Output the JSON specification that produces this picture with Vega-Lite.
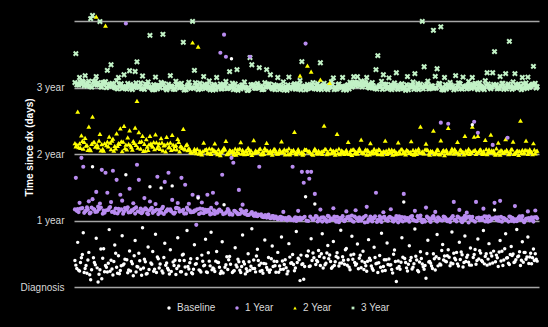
{
"$schema":"https://vega.github.io/schema/vega-lite/v6.json",
"width":465,"height":266,
"autosize":{"type":"none"},
"padding":{"left":74,"top":21,"right":9,"bottom":40},
"background":"#000000",
"config":{"view":{"stroke":null},"font":"Liberation Sans"},
"datasets":{
"h":[{"i":1,"v":1281},{"i":2,"v":1118},{"i":3,"v":1150},{"i":4,"v":1112},{"i":5,"v":1125},{"i":6,"v":1160},{"i":7,"v":1104},{"i":8,"v":1130},{"i":9,"v":1473},{"i":10,"v":1490},{"i":11,"v":1108},{"i":12,"v":1155},{"i":13,"v":1121},{"i":14,"v":1457},{"i":15,"v":1098},{"i":16,"v":1116},{"i":17,"v":1127},{"i":18,"v":1189},{"i":19,"v":1102},{"i":20,"v":1220},{"i":21,"v":1111},{"i":22,"v":1094},{"i":23,"v":1132},{"i":24,"v":1150},{"i":25,"v":1106},{"i":26,"v":1089},{"i":27,"v":1165},{"i":28,"v":1099},{"i":29,"v":1117},{"i":30,"v":1187},{"i":31,"v":1092},{"i":32,"v":1108},{"i":33,"v":1183},{"i":34,"v":1236},{"i":35,"v":1096},{"i":36,"v":1120},{"i":37,"v":1158},{"i":38,"v":1085},{"i":39,"v":1103},{"i":40,"v":1126},{"i":41,"v":1381},{"i":42,"v":1091},{"i":43,"v":1110},{"i":44,"v":1152},{"i":45,"v":1087},{"i":46,"v":1101},{"i":47,"v":1123},{"i":48,"v":1387},{"i":49,"v":1094},{"i":50,"v":1082},{"i":51,"v":1113},{"i":52,"v":1160},{"i":53,"v":1098},{"i":54,"v":1088},{"i":55,"v":1129},{"i":56,"v":1105},{"i":57,"v":1093},{"i":58,"v":1118},{"i":59,"v":1343},{"i":60,"v":1086},{"i":61,"v":1100},{"i":62,"v":1124},{"i":63,"v":1090},{"i":64,"v":1458},{"i":65,"v":1189},{"i":66,"v":1107},{"i":67,"v":1084},{"i":68,"v":1119},{"i":69,"v":1097},{"i":70,"v":1155},{"i":71,"v":1089},{"i":72,"v":1111},{"i":73,"v":1131},{"i":74,"v":1093},{"i":75,"v":1081},{"i":76,"v":1106},{"i":77,"v":1150},{"i":78,"v":1095},{"i":79,"v":1115},{"i":80,"v":1088},{"i":81,"v":1102},{"i":82,"v":1128},{"i":83,"v":1091},{"i":84,"v":1182},{"i":85,"v":1099},{"i":86,"v":1083},{"i":87,"v":1114},{"i":88,"v":1193},{"i":89,"v":1096},{"i":90,"v":1087},{"i":91,"v":1109},{"i":92,"v":1125},{"i":93,"v":1092},{"i":94,"v":1080},{"i":95,"v":1259},{"i":96,"v":1220},{"i":97,"v":1104},{"i":98,"v":1090},{"i":99,"v":1117},{"i":100,"v":1204},{"i":101,"v":1094},{"i":102,"v":1086},{"i":103,"v":1121},{"i":104,"v":1193},{"i":105,"v":1099},{"i":106,"v":1165},{"i":107,"v":1088},{"i":108,"v":1110},{"i":109,"v":1097},{"i":110,"v":1150},{"i":111,"v":1084},{"i":112,"v":1103},{"i":113,"v":1126},{"i":114,"v":1091},{"i":115,"v":1079},{"i":116,"v":1152},{"i":117,"v":1100},{"i":118,"v":1093},{"i":119,"v":1116},{"i":120,"v":1087},{"i":121,"v":1105},{"i":122,"v":1133},{"i":123,"v":1237},{"i":124,"v":1095},{"i":125,"v":1082},{"i":126,"v":1112},{"i":127,"v":1098},{"i":128,"v":1089},{"i":129,"v":1122},{"i":130,"v":1094},{"i":131,"v":1106},{"i":132,"v":1085},{"i":133,"v":1231},{"i":134,"v":1101},{"i":135,"v":1118},{"i":136,"v":1090},{"i":137,"v":1083},{"i":138,"v":1108},{"i":139,"v":1127},{"i":140,"v":1148},{"i":141,"v":1096},{"i":142,"v":1087},{"i":143,"v":1114},{"i":144,"v":1099},{"i":145,"v":1150},{"i":146,"v":1092},{"i":147,"v":1081},{"i":148,"v":1110},{"i":149,"v":1124},{"i":150,"v":1097},{"i":151,"v":1154},{"i":152,"v":1103},{"i":153,"v":1154},{"i":154,"v":1119},{"i":155,"v":1131},{"i":156,"v":1108},{"i":157,"v":1126},{"i":158,"v":1150},{"i":159,"v":1113},{"i":160,"v":1100},{"i":161,"v":1122},{"i":162,"v":1094},{"i":163,"v":1193},{"i":164,"v":1270},{"i":165,"v":1106},{"i":166,"v":1129},{"i":167,"v":1165},{"i":168,"v":1098},{"i":169,"v":1088},{"i":170,"v":1148},{"i":171,"v":1111},{"i":172,"v":1093},{"i":173,"v":1120},{"i":174,"v":1176},{"i":175,"v":1085},{"i":176,"v":1102},{"i":177,"v":1116},{"i":178,"v":1090},{"i":179,"v":1080},{"i":180,"v":1155},{"i":181,"v":1097},{"i":182,"v":1108},{"i":183,"v":1125},{"i":184,"v":1171},{"i":185,"v":1092},{"i":186,"v":1084},{"i":187,"v":1113},{"i":188,"v":1458},{"i":189,"v":1209},{"i":190,"v":1099},{"i":191,"v":1130},{"i":192,"v":1089},{"i":193,"v":1105},{"i":194,"v":1409},{"i":195,"v":1156},{"i":196,"v":1198},{"i":197,"v":1117},{"i":198,"v":1428},{"i":199,"v":1094},{"i":200,"v":1150},{"i":201,"v":1086},{"i":202,"v":1110},{"i":203,"v":1123},{"i":204,"v":1096},{"i":205,"v":1082},{"i":206,"v":1160},{"i":207,"v":1104},{"i":208,"v":1119},{"i":209,"v":1091},{"i":210,"v":1152},{"i":211,"v":1100},{"i":212,"v":1087},{"i":213,"v":1128},{"i":214,"v":1107},{"i":215,"v":1150},{"i":216,"v":1095},{"i":217,"v":1114},{"i":218,"v":1083},{"i":219,"v":1121},{"i":220,"v":1098},{"i":221,"v":1090},{"i":222,"v":1132},{"i":223,"v":1176},{"i":224,"v":1103},{"i":225,"v":1088},{"i":226,"v":1176},{"i":227,"v":1292},{"i":228,"v":1111},{"i":229,"v":1094},{"i":230,"v":1155},{"i":231,"v":1117},{"i":232,"v":1085},{"i":233,"v":1171},{"i":234,"v":1106},{"i":235,"v":1348},{"i":236,"v":1097},{"i":237,"v":1126},{"i":238,"v":1171},{"i":239,"v":1092},{"i":240,"v":1115},{"i":241,"v":1101},{"i":242,"v":1150},{"i":243,"v":1089},{"i":244,"v":1120},{"i":245,"v":1152},{"i":246,"v":1096},{"i":247,"v":1108},{"i":248,"v":1211},{"i":249,"v":1118},{"i":250,"v":1100},
{"i":1.5,"v":1110},{"i":3.5,"v":1126},{"i":5.5,"v":1104},{"i":7.5,"v":1119},{"i":9.5,"v":1097},{"i":11.5,"v":1131},{"i":13.5,"v":1108},{"i":15.5,"v":1122},{"i":17.5,"v":1094},{"i":19.5,"v":1113},{"i":21.5,"v":1101},{"i":23.5,"v":1087},{"i":25.5,"v":1116},{"i":27.5,"v":1092},{"i":29.5,"v":1105},{"i":31.5,"v":1084},{"i":33.5,"v":1120},{"i":35.5,"v":1098},{"i":37.5,"v":1089},{"i":39.5,"v":1111},{"i":41.5,"v":1095},{"i":43.5,"v":1083},{"i":45.5,"v":1107},{"i":47.5,"v":1118},{"i":49.5,"v":1090},{"i":51.5,"v":1102},{"i":53.5,"v":1086},{"i":55.5,"v":1113},{"i":57.5,"v":1097},{"i":59.5,"v":1081},{"i":61.5,"v":1109},{"i":63.5,"v":1094},{"i":65.5,"v":1121},{"i":67.5,"v":1088},{"i":69.5,"v":1104},{"i":71.5,"v":1096},{"i":73.5,"v":1082},{"i":75.5,"v":1112},{"i":77.5,"v":1099},{"i":79.5,"v":1087},{"i":81.5,"v":1108},{"i":83.5,"v":1093},{"i":85.5,"v":1119},{"i":87.5,"v":1085},{"i":89.5,"v":1101},{"i":91.5,"v":1095},{"i":93.5,"v":1080},{"i":95.5,"v":1110},{"i":97.5,"v":1092},{"i":99.5,"v":1106},{"i":101.5,"v":1083},{"i":103.5,"v":1098},{"i":105.5,"v":1114},{"i":107.5,"v":1089},{"i":109.5,"v":1103},{"i":111.5,"v":1094},{"i":113.5,"v":1081},{"i":115.5,"v":1109},{"i":117.5,"v":1096},{"i":119.5,"v":1086},{"i":121.5,"v":1112},{"i":123.5,"v":1100},{"i":125.5,"v":1088},{"i":127.5,"v":1105},{"i":129.5,"v":1093},{"i":131.5,"v":1117},{"i":133.5,"v":1084},{"i":135.5,"v":1102},{"i":137.5,"v":1095},{"i":139.5,"v":1110},{"i":141.5,"v":1087},{"i":143.5,"v":1099},{"i":145.5,"v":1082},{"i":147.5,"v":1107},{"i":149.5,"v":1116},{"i":151.5,"v":1124},{"i":153.5,"v":1111},{"i":155.5,"v":1098},{"i":157.5,"v":1119},{"i":159.5,"v":1092},{"i":161.5,"v":1105},{"i":163.5,"v":1086},{"i":165.5,"v":1101},{"i":167.5,"v":1113},{"i":169.5,"v":1094},{"i":171.5,"v":1083},{"i":173.5,"v":1108},{"i":175.5,"v":1097},{"i":177.5,"v":1089},{"i":179.5,"v":1111},{"i":181.5,"v":1100},{"i":183.5,"v":1085},{"i":185.5,"v":1117},{"i":187.5,"v":1095},{"i":189.5,"v":1106},{"i":191.5,"v":1088},{"i":193.5,"v":1103},{"i":195.5,"v":1092},{"i":197.5,"v":1114},{"i":199.5,"v":1081},{"i":201.5,"v":1099},{"i":203.5,"v":1109},{"i":205.5,"v":1093},{"i":207.5,"v":1120},{"i":209.5,"v":1086},{"i":211.5,"v":1104},{"i":213.5,"v":1096},{"i":215.5,"v":1112},{"i":217.5,"v":1090},{"i":219.5,"v":1101},{"i":221.5,"v":1084},{"i":223.5,"v":1115},{"i":225.5,"v":1098},{"i":227.5,"v":1107},{"i":229.5,"v":1091},{"i":231.5,"v":1118},{"i":233.5,"v":1087},{"i":235.5,"v":1102},{"i":237.5,"v":1094},{"i":239.5,"v":1110},{"i":241.5,"v":1083},{"i":243.5,"v":1105},{"i":245.5,"v":1097},{"i":247.5,"v":1113},{"i":249.5,"v":1092},
{"i":0.5,"v":1122},{"i":2.5,"v":1108},{"i":4.5,"v":1131},{"i":6.5,"v":1115},{"i":8.5,"v":1102},{"i":10.5,"v":1127},{"i":12.5,"v":1112},{"i":14.5,"v":1098},{"i":16.5,"v":1124},{"i":18.5,"v":1106},{"i":20.5,"v":1117},{"i":22.5,"v":1093},{"i":24.5,"v":1110},{"i":26.5,"v":1100},{"i":28.5,"v":1086},{"i":30.5,"v":1112},{"i":32.5,"v":1095},{"i":34.5,"v":1104},{"i":36.5,"v":1088},{"i":38.5,"v":1114},{"i":40.5,"v":1099},{"i":42.5,"v":1082},{"i":44.5,"v":1106},{"i":46.5,"v":1093},{"i":48.5,"v":1116},{"i":50.5,"v":1090},{"i":52.5,"v":1103},{"i":54.5,"v":1085},{"i":56.5,"v":1110},{"i":58.5,"v":1096},{"i":60.5,"v":1083},{"i":62.5,"v":1107},{"i":64.5,"v":1091},{"i":66.5,"v":1101},{"i":68.5,"v":1087},{"i":70.5,"v":1113},{"i":72.5,"v":1094},{"i":74.5,"v":1105},{"i":76.5,"v":1084},{"i":78.5,"v":1098},{"i":80.5,"v":1110},{"i":82.5,"v":1089},{"i":84.5,"v":1102},{"i":86.5,"v":1094},{"i":88.5,"v":1080},{"i":90.5,"v":1108},{"i":92.5,"v":1097},{"i":94.5,"v":1086},{"i":96.5,"v":1111},{"i":98.5,"v":1092},{"i":100.5,"v":1101},{"i":102.5,"v":1085},{"i":104.5,"v":1113},{"i":106.5,"v":1096},{"i":108.5,"v":1083},{"i":110.5,"v":1106},{"i":112.5,"v":1091},{"i":114.5,"v":1100},{"i":116.5,"v":1088},{"i":118.5,"v":1109},{"i":120.5,"v":1094},{"i":122.5,"v":1082},{"i":124.5,"v":1104},{"i":126.5,"v":1093},{"i":128.5,"v":1110},{"i":130.5,"v":1086},{"i":132.5,"v":1099},{"i":134.5,"v":1107},{"i":136.5,"v":1090},{"i":138.5,"v":1098},{"i":140.5,"v":1084},{"i":142.5,"v":1111},{"i":144.5,"v":1095},{"i":146.5,"v":1103},{"i":148.5,"v":1087},{"i":150.5,"v":1115},{"i":152.5,"v":1122},{"i":154.5,"v":1106},{"i":156.5,"v":1114},{"i":158.5,"v":1097},{"i":160.5,"v":1109},{"i":162.5,"v":1089},{"i":164.5,"v":1100},{"i":166.5,"v":1085},{"i":168.5,"v":1112},{"i":170.5,"v":1096},{"i":172.5,"v":1104},{"i":174.5,"v":1088},{"i":176.5,"v":1110},{"i":178.5,"v":1093},{"i":180.5,"v":1082},{"i":182.5,"v":1101},{"i":184.5,"v":1095},{"i":186.5,"v":1107},{"i":188.5,"v":1087},{"i":190.5,"v":1113},{"i":192.5,"v":1098},{"i":194.5,"v":1090},{"i":196.5,"v":1105},{"i":198.5,"v":1084},{"i":200.5,"v":1110},{"i":202.5,"v":1094},{"i":204.5,"v":1102},{"i":206.5,"v":1086},{"i":208.5,"v":1115},{"i":210.5,"v":1097},{"i":212.5,"v":1106},{"i":214.5,"v":1089},{"i":216.5,"v":1118},{"i":218.5,"v":1099},{"i":220.5,"v":1091},{"i":222.5,"v":1108},{"i":224.5,"v":1095},{"i":226.5,"v":1112},{"i":228.5,"v":1088},{"i":230.5,"v":1103},{"i":232.5,"v":1096},{"i":234.5,"v":1114},{"i":236.5,"v":1085},{"i":238.5,"v":1107},{"i":240.5,"v":1098},{"i":242.5,"v":1116},{"i":244.5,"v":1090},{"i":246.5,"v":1104},{"i":248.5,"v":1111}],
"t":[{"i":1,"v":772},{"i":2,"v":962},{"i":3,"v":788},{"i":4,"v":832},{"i":5,"v":760},{"i":6,"v":818},{"i":7,"v":779},{"i":8,"v":880},{"i":9,"v":751},{"i":10,"v":935},{"i":11,"v":795},{"i":12,"v":1484},{"i":13,"v":766},{"i":14,"v":840},{"i":15,"v":784},{"i":16,"v":749},{"i":17,"v":1435},{"i":18,"v":798},{"i":19,"v":826},{"i":20,"v":757},{"i":21,"v":815},{"i":22,"v":775},{"i":23,"v":843},{"i":24,"v":790},{"i":25,"v":870},{"i":26,"v":746},{"i":27,"v":885},{"i":28,"v":782},{"i":29,"v":821},{"i":30,"v":860},{"i":31,"v":768},{"i":32,"v":801},{"i":33,"v":875},{"i":34,"v":1022},{"i":35,"v":850},{"i":36,"v":759},{"i":37,"v":829},{"i":38,"v":786},{"i":39,"v":812},{"i":40,"v":753},{"i":41,"v":830},{"i":42,"v":777},{"i":43,"v":795},{"i":44,"v":838},{"i":45,"v":763},{"i":46,"v":789},{"i":47,"v":817},{"i":48,"v":750},{"i":49,"v":781},{"i":50,"v":824},{"i":51,"v":766},{"i":52,"v":792},{"i":53,"v":835},{"i":54,"v":758},{"i":55,"v":779},{"i":56,"v":813},{"i":57,"v":745},{"i":58,"v":771},{"i":59,"v":868},{"i":60,"v":756},{"i":61,"v":784},{"i":62,"v":762},{"i":63,"v":741},{"i":64,"v":1342},{"i":65,"v":758},{"i":66,"v":735},{"i":67,"v":1320},{"i":68,"v":749},{"i":69,"v":728},{"i":70,"v":793},{"i":71,"v":752},{"i":72,"v":737},{"i":73,"v":761},{"i":74,"v":730},{"i":75,"v":746},{"i":76,"v":788},{"i":77,"v":739},{"i":78,"v":756},{"i":79,"v":724},{"i":80,"v":748},{"i":81,"v":765},{"i":82,"v":802},{"i":83,"v":733},{"i":84,"v":751},{"i":85,"v":742},{"i":86,"v":727},{"i":87,"v":760},{"i":88,"v":744},{"i":89,"v":736},{"i":90,"v":795},{"i":91,"v":753},{"i":92,"v":729},{"i":93,"v":747},{"i":94,"v":763},{"i":95,"v":738},{"i":96,"v":725},{"i":97,"v":806},{"i":98,"v":750},{"i":99,"v":740},{"i":100,"v":757},{"i":101,"v":731},{"i":102,"v":745},{"i":103,"v":762},{"i":104,"v":791},{"i":105,"v":735},{"i":106,"v":748},{"i":107,"v":726},{"i":108,"v":758},{"i":109,"v":743},{"i":110,"v":732},{"i":111,"v":754},{"i":112,"v":799},{"i":113,"v":739},{"i":114,"v":728},{"i":115,"v":750},{"i":116,"v":761},{"i":117,"v":736},{"i":118,"v":744},{"i":119,"v":852},{"i":120,"v":729},{"i":121,"v":757},{"i":122,"v":1160},{"i":123,"v":741},{"i":124,"v":733},{"i":125,"v":752},{"i":126,"v":1215},{"i":127,"v":746},{"i":128,"v":1182},{"i":129,"v":727},{"i":130,"v":760},{"i":131,"v":738},{"i":132,"v":749},{"i":133,"v":1138},{"i":134,"v":731},{"i":135,"v":886},{"i":136,"v":755},{"i":137,"v":742},{"i":138,"v":1120},{"i":139,"v":735},{"i":140,"v":748},{"i":141,"v":726},{"i":142,"v":841},{"i":143,"v":759},{"i":144,"v":737},{"i":145,"v":744},{"i":146,"v":730},{"i":147,"v":753},{"i":148,"v":797},{"i":149,"v":740},{"i":150,"v":725},{"i":151,"v":756},{"i":152,"v":743},{"i":153,"v":732},{"i":154,"v":761},{"i":155,"v":809},{"i":156,"v":738},{"i":157,"v":749},{"i":158,"v":727},{"i":159,"v":745},{"i":160,"v":790},{"i":161,"v":734},{"i":162,"v":758},{"i":163,"v":741},{"i":164,"v":729},{"i":165,"v":752},{"i":166,"v":737},{"i":167,"v":746},{"i":168,"v":803},{"i":169,"v":731},{"i":170,"v":755},{"i":171,"v":742},{"i":172,"v":726},{"i":173,"v":750},{"i":174,"v":739},{"i":175,"v":794},{"i":176,"v":733},{"i":177,"v":757},{"i":178,"v":744},{"i":179,"v":728},{"i":180,"v":748},{"i":181,"v":736},{"i":182,"v":800},{"i":183,"v":753},{"i":184,"v":740},{"i":185,"v":730},{"i":186,"v":759},{"i":187,"v":880},{"i":188,"v":745},{"i":189,"v":734},{"i":190,"v":787},{"i":191,"v":751},{"i":192,"v":727},{"i":193,"v":742},{"i":194,"v":858},{"i":195,"v":738},{"i":196,"v":756},{"i":197,"v":731},{"i":198,"v":805},{"i":199,"v":747},{"i":200,"v":724},{"i":201,"v":753},{"i":202,"v":874},{"i":203,"v":739},{"i":204,"v":760},{"i":205,"v":732},{"i":206,"v":745},{"i":207,"v":796},{"i":208,"v":728},{"i":209,"v":750},{"i":210,"v":741},{"i":211,"v":830},{"i":212,"v":735},{"i":213,"v":758},{"i":214,"v":744},{"i":215,"v":880},{"i":216,"v":825},{"i":217,"v":730},{"i":218,"v":830},{"i":219,"v":752},{"i":220,"v":737},{"i":221,"v":746},{"i":222,"v":808},{"i":223,"v":729},{"i":224,"v":755},{"i":225,"v":836},{"i":226,"v":740},{"i":227,"v":733},{"i":228,"v":761},{"i":229,"v":792},{"i":230,"v":726},{"i":231,"v":749},{"i":232,"v":738},{"i":233,"v":812},{"i":234,"v":744},{"i":235,"v":731},{"i":236,"v":757},{"i":237,"v":798},{"i":238,"v":735},{"i":239,"v":747},{"i":240,"v":725},{"i":241,"v":913},{"i":242,"v":752},{"i":243,"v":739},{"i":244,"v":804},{"i":245,"v":730},{"i":246,"v":756},{"i":247,"v":742},{"i":248,"v":789},{"i":249,"v":734},{"i":250,"v":748},
{"i":1.5,"v":781},{"i":3.5,"v":764},{"i":5.5,"v":797},{"i":7.5,"v":752},{"i":9.5,"v":786},{"i":11.5,"v":770},{"i":13.5,"v":803},{"i":15.5,"v":758},{"i":17.5,"v":779},{"i":19.5,"v":792},{"i":21.5,"v":748},{"i":23.5,"v":774},{"i":25.5,"v":799},{"i":27.5,"v":762},{"i":29.5,"v":785},{"i":31.5,"v":754},{"i":33.5,"v":780},{"i":35.5,"v":796},{"i":37.5,"v":747},{"i":39.5,"v":771},{"i":41.5,"v":788},{"i":43.5,"v":757},{"i":45.5,"v":776},{"i":47.5,"v":793},{"i":49.5,"v":744},{"i":51.5,"v":769},{"i":53.5,"v":782},{"i":55.5,"v":755},{"i":57.5,"v":773},{"i":59.5,"v":760},{"i":61.5,"v":751},{"i":63.5,"v":738},{"i":65.5,"v":749},{"i":67.5,"v":732},{"i":69.5,"v":744},{"i":71.5,"v":757},{"i":73.5,"v":736},{"i":75.5,"v":752},{"i":77.5,"v":729},{"i":79.5,"v":741},{"i":81.5,"v":755},{"i":83.5,"v":734},{"i":85.5,"v":747},{"i":87.5,"v":726},{"i":89.5,"v":759},{"i":91.5,"v":740},{"i":93.5,"v":731},{"i":95.5,"v":750},{"i":97.5,"v":737},{"i":99.5,"v":745},{"i":101.5,"v":728},{"i":103.5,"v":753},{"i":105.5,"v":739},{"i":107.5,"v":746},{"i":109.5,"v":733},{"i":111.5,"v":742},{"i":113.5,"v":756},{"i":115.5,"v":730},{"i":117.5,"v":748},{"i":119.5,"v":737},{"i":121.5,"v":744},{"i":123.5,"v":727},{"i":125.5,"v":754},{"i":127.5,"v":739},{"i":129.5,"v":749},{"i":131.5,"v":732},{"i":133.5,"v":743},{"i":135.5,"v":758},{"i":137.5,"v":734},{"i":139.5,"v":745},{"i":141.5,"v":751},{"i":143.5,"v":729},{"i":145.5,"v":740},{"i":147.5,"v":736},{"i":149.5,"v":753},{"i":151.5,"v":733},{"i":153.5,"v":747},{"i":155.5,"v":739},{"i":157.5,"v":756},{"i":159.5,"v":728},{"i":161.5,"v":744},{"i":163.5,"v":750},{"i":165.5,"v":731},{"i":167.5,"v":742},{"i":169.5,"v":737},{"i":171.5,"v":754},{"i":173.5,"v":729},{"i":175.5,"v":745},{"i":177.5,"v":735},{"i":179.5,"v":752},{"i":181.5,"v":741},{"i":183.5,"v":727},{"i":185.5,"v":748},{"i":187.5,"v":738},{"i":189.5,"v":755},{"i":191.5,"v":732},{"i":193.5,"v":746},{"i":195.5,"v":740},{"i":197.5,"v":728},{"i":199.5,"v":751},{"i":201.5,"v":736},{"i":203.5,"v":744},{"i":205.5,"v":757},{"i":207.5,"v":733},{"i":209.5,"v":742},{"i":211.5,"v":749},{"i":213.5,"v":730},{"i":215.5,"v":747},{"i":217.5,"v":739},{"i":219.5,"v":755},{"i":221.5,"v":734},{"i":223.5,"v":743},{"i":225.5,"v":750},{"i":227.5,"v":727},{"i":229.5,"v":745},{"i":231.5,"v":737},{"i":233.5,"v":753},{"i":235.5,"v":741},{"i":237.5,"v":731},{"i":239.5,"v":748},{"i":241.5,"v":736},{"i":243.5,"v":752},{"i":245.5,"v":744},{"i":247.5,"v":729},{"i":249.5,"v":746},
{"i":0.5,"v":790},{"i":2.5,"v":768},{"i":4.5,"v":802},{"i":6.5,"v":776},{"i":8.5,"v":759},{"i":10.5,"v":795},{"i":12.5,"v":781},{"i":14.5,"v":750},{"i":16.5,"v":789},{"i":18.5,"v":772},{"i":20.5,"v":804},{"i":22.5,"v":761},{"i":24.5,"v":785},{"i":26.5,"v":798},{"i":28.5,"v":756},{"i":30.5,"v":778},{"i":32.5,"v":791},{"i":34.5,"v":765},{"i":36.5,"v":800},{"i":38.5,"v":749},{"i":40.5,"v":783},{"i":42.5,"v":770},{"i":44.5,"v":794},{"i":46.5,"v":758},{"i":48.5,"v":777},{"i":50.5,"v":788},{"i":52.5,"v":753},{"i":54.5,"v":774},{"i":56.5,"v":796},{"i":58.5,"v":763},{"i":60.5,"v":779},{"i":62.5,"v":755},{"i":64.5,"v":743},{"i":66.5,"v":758},{"i":68.5,"v":738},{"i":70.5,"v":751},{"i":72.5,"v":733},{"i":74.5,"v":760},{"i":76.5,"v":744},{"i":78.5,"v":737},{"i":80.5,"v":754},{"i":82.5,"v":729},{"i":84.5,"v":748},{"i":86.5,"v":740},{"i":88.5,"v":757},{"i":90.5,"v":732},{"i":92.5,"v":746},{"i":94.5,"v":752},{"i":96.5,"v":735},{"i":98.5,"v":743},{"i":100.5,"v":759},{"i":102.5,"v":730},{"i":104.5,"v":748},{"i":106.5,"v":739},{"i":108.5,"v":755},{"i":110.5,"v":736},{"i":112.5,"v":744},{"i":114.5,"v":750},{"i":116.5,"v":728},{"i":118.5,"v":753},{"i":120.5,"v":741},{"i":122.5,"v":734},{"i":124.5,"v":756},{"i":126.5,"v":745},{"i":128.5,"v":731},{"i":130.5,"v":751},{"i":132.5,"v":738},{"i":134.5,"v":747},{"i":136.5,"v":729},{"i":138.5,"v":757},{"i":140.5,"v":742},{"i":142.5,"v":735},{"i":144.5,"v":750},{"i":146.5,"v":744},{"i":148.5,"v":730},{"i":150.5,"v":754},{"i":152.5,"v":739},{"i":154.5,"v":748},{"i":156.5,"v":733},{"i":158.5,"v":752},{"i":160.5,"v":743},{"i":162.5,"v":736},{"i":164.5,"v":757},{"i":166.5,"v":728},{"i":168.5,"v":749},{"i":170.5,"v":740},{"i":172.5,"v":746},{"i":174.5,"v":732},{"i":176.5,"v":755},{"i":178.5,"v":738},{"i":180.5,"v":744},{"i":182.5,"v":730},{"i":184.5,"v":751},{"i":186.5,"v":742},{"i":188.5,"v":735},{"i":190.5,"v":756},{"i":192.5,"v":747},{"i":194.5,"v":729},{"i":196.5,"v":753},{"i":198.5,"v":738},{"i":200.5,"v":745},{"i":202.5,"v":733},{"i":204.5,"v":750},{"i":206.5,"v":741},{"i":208.5,"v":754},{"i":210.5,"v":728},{"i":212.5,"v":746},{"i":214.5,"v":737},{"i":216.5,"v":752},{"i":218.5,"v":743},{"i":220.5,"v":731},{"i":222.5,"v":757},{"i":224.5,"v":740},{"i":226.5,"v":748},{"i":228.5,"v":734},{"i":230.5,"v":751},{"i":232.5,"v":744},{"i":234.5,"v":729},{"i":236.5,"v":755},{"i":238.5,"v":739},{"i":240.5,"v":746},{"i":242.5,"v":733},{"i":244.5,"v":750},{"i":246.5,"v":741},{"i":248.5,"v":754}],
"o":[{"i":1,"v":599},{"i":2,"v":428},{"i":3,"v":462},{"i":4,"v":709},{"i":5,"v":660},{"i":6,"v":415},{"i":7,"v":437},{"i":8,"v":470},{"i":9,"v":409},{"i":10,"v":482},{"i":11,"v":425},{"i":12,"v":522},{"i":13,"v":441},{"i":14,"v":458},{"i":15,"v":643},{"i":16,"v":419},{"i":17,"v":627},{"i":18,"v":517},{"i":19,"v":433},{"i":20,"v":466},{"i":21,"v":638},{"i":22,"v":406},{"i":23,"v":588},{"i":24,"v":429},{"i":25,"v":506},{"i":26,"v":474},{"i":27,"v":414},{"i":28,"v":1446},{"i":29,"v":438},{"i":30,"v":539},{"i":31,"v":421},{"i":32,"v":460},{"i":33,"v":403},{"i":34,"v":671},{"i":35,"v":588},{"i":36,"v":431},{"i":37,"v":412},{"i":38,"v":488},{"i":39,"v":426},{"i":40,"v":399},{"i":41,"v":469},{"i":42,"v":435},{"i":43,"v":417},{"i":44,"v":455},{"i":45,"v":605},{"i":46,"v":422},{"i":47,"v":408},{"i":48,"v":440},{"i":49,"v":577},{"i":50,"v":418},{"i":51,"v":627},{"i":52,"v":427},{"i":53,"v":478},{"i":54,"v":402},{"i":55,"v":433},{"i":56,"v":461},{"i":57,"v":414},{"i":58,"v":599},{"i":59,"v":424},{"i":60,"v":561},{"i":61,"v":436},{"i":62,"v":457},{"i":63,"v":410},{"i":64,"v":506},{"i":65,"v":420},{"i":66,"v":341},{"i":67,"v":495},{"i":68,"v":430},{"i":69,"v":464},{"i":70,"v":405},{"i":71,"v":423},{"i":72,"v":506},{"i":73,"v":413},{"i":74,"v":434},{"i":75,"v":517},{"i":76,"v":401},{"i":77,"v":459},{"i":78,"v":419},{"i":79,"v":1286},{"i":80,"v":616},{"i":81,"v":1385},{"i":82,"v":1264},{"i":83,"v":428},{"i":84,"v":398},{"i":85,"v":709},{"i":86,"v":682},{"i":87,"v":416},{"i":88,"v":407},{"i":89,"v":533},{"i":90,"v":425},{"i":91,"v":452},{"i":92,"v":403},{"i":93,"v":418},{"i":94,"v":396},{"i":95,"v":1264},{"i":96,"v":411},{"i":97,"v":392},{"i":98,"v":404},{"i":99,"v":388},{"i":100,"v":660},{"i":101,"v":399},{"i":102,"v":385},{"i":103,"v":394},{"i":104,"v":381},{"i":105,"v":397},{"i":106,"v":378},{"i":107,"v":390},{"i":108,"v":376},{"i":109,"v":386},{"i":110,"v":372},{"i":111,"v":383},{"i":112,"v":369},{"i":113,"v":412},{"i":114,"v":379},{"i":115,"v":366},{"i":116,"v":384},{"i":117,"v":371},{"i":118,"v":660},{"i":119,"v":377},{"i":120,"v":362},{"i":121,"v":418},{"i":122,"v":381},{"i":123,"v":632},{"i":124,"v":572},{"i":125,"v":1336},{"i":126,"v":632},{"i":127,"v":594},{"i":128,"v":632},{"i":129,"v":368},{"i":130,"v":511},{"i":131,"v":386},{"i":132,"v":374},{"i":133,"v":425},{"i":134,"v":359},{"i":135,"v":380},{"i":136,"v":370},{"i":137,"v":391},{"i":138,"v":363},{"i":139,"v":376},{"i":140,"v":432},{"i":141,"v":367},{"i":142,"v":385},{"i":143,"v":356},{"i":144,"v":373},{"i":145,"v":389},{"i":146,"v":361},{"i":147,"v":415},{"i":148,"v":377},{"i":149,"v":368},{"i":150,"v":392},{"i":151,"v":358},{"i":152,"v":421},{"i":153,"v":375},{"i":154,"v":383},{"i":155,"v":364},{"i":156,"v":379},{"i":157,"v":354},{"i":158,"v":440},{"i":159,"v":371},{"i":160,"v":386},{"i":161,"v":360},{"i":162,"v":378},{"i":163,"v":517},{"i":164,"v":369},{"i":165,"v":388},{"i":166,"v":357},{"i":167,"v":410},{"i":168,"v":374},{"i":169,"v":365},{"i":170,"v":381},{"i":171,"v":427},{"i":172,"v":362},{"i":173,"v":376},{"i":174,"v":390},{"i":175,"v":355},{"i":176,"v":372},{"i":177,"v":384},{"i":178,"v":511},{"i":179,"v":366},{"i":180,"v":379},{"i":181,"v":358},{"i":182,"v":387},{"i":183,"v":370},{"i":184,"v":418},{"i":185,"v":361},{"i":186,"v":375},{"i":187,"v":392},{"i":188,"v":356},{"i":189,"v":368},{"i":190,"v":436},{"i":191,"v":380},{"i":192,"v":363},{"i":193,"v":374},{"i":194,"v":389},{"i":195,"v":412},{"i":196,"v":359},{"i":197,"v":377},{"i":198,"v":902},{"i":199,"v":366},{"i":200,"v":384},{"i":201,"v":371},{"i":202,"v":896},{"i":203,"v":357},{"i":204,"v":382},{"i":205,"v":467},{"i":206,"v":369},{"i":207,"v":386},{"i":208,"v":423},{"i":209,"v":362},{"i":210,"v":378},{"i":211,"v":391},{"i":212,"v":408},{"i":213,"v":354},{"i":214,"v":373},{"i":215,"v":385},{"i":216,"v":907},{"i":217,"v":467},{"i":218,"v":846},{"i":219,"v":367},{"i":220,"v":380},{"i":221,"v":430},{"i":222,"v":360},{"i":223,"v":376},{"i":224,"v":388},{"i":225,"v":365},{"i":226,"v":780},{"i":227,"v":462},{"i":228,"v":372},{"i":229,"v":383},{"i":230,"v":473},{"i":231,"v":358},{"i":232,"v":379},{"i":233,"v":369},{"i":234,"v":819},{"i":235,"v":387},{"i":236,"v":363},{"i":237,"v":375},{"i":238,"v":444},{"i":239,"v":361},{"i":240,"v":381},{"i":241,"v":370},{"i":242,"v":390},{"i":243,"v":356},{"i":244,"v":374},{"i":245,"v":415},{"i":246,"v":366},{"i":247,"v":383},{"i":248,"v":359},{"i":249,"v":420},{"i":250,"v":377},
{"i":1.5,"v":418},{"i":3.5,"v":430},{"i":5.5,"v":407},{"i":7.5,"v":424},{"i":9.5,"v":436},{"i":11.5,"v":412},{"i":13.5,"v":427},{"i":15.5,"v":402},{"i":17.5,"v":421},{"i":19.5,"v":439},{"i":21.5,"v":415},{"i":23.5,"v":404},{"i":25.5,"v":426},{"i":27.5,"v":433},{"i":29.5,"v":409},{"i":31.5,"v":420},{"i":33.5,"v":437},{"i":35.5,"v":411},{"i":37.5,"v":423},{"i":39.5,"v":405},{"i":41.5,"v":429},{"i":43.5,"v":416},{"i":45.5,"v":400},{"i":47.5,"v":431},{"i":49.5,"v":413},{"i":51.5,"v":422},{"i":53.5,"v":406},{"i":55.5,"v":434},{"i":57.5,"v":417},{"i":59.5,"v":403},{"i":61.5,"v":425},{"i":63.5,"v":410},{"i":65.5,"v":419},{"i":67.5,"v":401},{"i":69.5,"v":428},{"i":71.5,"v":412},{"i":73.5,"v":398},{"i":75.5,"v":421},{"i":77.5,"v":408},{"i":79.5,"v":415},{"i":81.5,"v":404},{"i":83.5,"v":419},{"i":85.5,"v":397},{"i":87.5,"v":410},{"i":89.5,"v":401},{"i":91.5,"v":414},{"i":93.5,"v":395},{"i":95.5,"v":405},{"i":97.5,"v":391},{"i":99.5,"v":398},{"i":101.5,"v":386},{"i":103.5,"v":393},{"i":105.5,"v":382},{"i":107.5,"v":389},{"i":109.5,"v":377},{"i":111.5,"v":385},{"i":113.5,"v":373},{"i":115.5,"v":380},{"i":117.5,"v":368},{"i":119.5,"v":383},{"i":121.5,"v":371},{"i":123.5,"v":378},{"i":125.5,"v":364},{"i":127.5,"v":386},{"i":129.5,"v":374},{"i":131.5,"v":360},{"i":133.5,"v":381},{"i":135.5,"v":367},{"i":137.5,"v":388},{"i":139.5,"v":372},{"i":141.5,"v":358},{"i":143.5,"v":379},{"i":145.5,"v":365},{"i":147.5,"v":384},{"i":149.5,"v":370},{"i":151.5,"v":386},{"i":153.5,"v":362},{"i":155.5,"v":376},{"i":157.5,"v":391},{"i":159.5,"v":367},{"i":161.5,"v":380},{"i":163.5,"v":357},{"i":165.5,"v":373},{"i":167.5,"v":385},{"i":169.5,"v":363},{"i":171.5,"v":378},{"i":173.5,"v":369},{"i":175.5,"v":388},{"i":177.5,"v":360},{"i":179.5,"v":375},{"i":181.5,"v":382},{"i":183.5,"v":366},{"i":185.5,"v":389},{"i":187.5,"v":371},{"i":189.5,"v":359},{"i":191.5,"v":377},{"i":193.5,"v":384},{"i":195.5,"v":364},{"i":197.5,"v":372},{"i":199.5,"v":387},{"i":201.5,"v":361},{"i":203.5,"v":376},{"i":205.5,"v":368},{"i":207.5,"v":383},{"i":209.5,"v":356},{"i":211.5,"v":374},{"i":213.5,"v":386},{"i":215.5,"v":365},{"i":217.5,"v":379},{"i":219.5,"v":370},{"i":221.5,"v":388},{"i":223.5,"v":358},{"i":225.5,"v":375},{"i":227.5,"v":382},{"i":229.5,"v":363},{"i":231.5,"v":377},{"i":233.5,"v":369},{"i":235.5,"v":385},{"i":237.5,"v":360},{"i":239.5,"v":373},{"i":241.5,"v":381},{"i":243.5,"v":366},{"i":245.5,"v":378},{"i":247.5,"v":371},{"i":249.5,"v":384},
{"i":0.5,"v":426},{"i":2.5,"v":411},{"i":4.5,"v":433},{"i":6.5,"v":419},{"i":8.5,"v":404},{"i":10.5,"v":428},{"i":12.5,"v":414},{"i":14.5,"v":436},{"i":16.5,"v":408},{"i":18.5,"v":423},{"i":20.5,"v":412},{"i":22.5,"v":431},{"i":24.5,"v":418},{"i":26.5,"v":402},{"i":28.5,"v":425},{"i":30.5,"v":410},{"i":32.5,"v":429},{"i":34.5,"v":416},{"i":36.5,"v":405},{"i":38.5,"v":432},{"i":40.5,"v":420},{"i":42.5,"v":407},{"i":44.5,"v":424},{"i":46.5,"v":413},{"i":48.5,"v":401},{"i":50.5,"v":427},{"i":52.5,"v":415},{"i":54.5,"v":409},{"i":56.5,"v":430},{"i":58.5,"v":418},{"i":60.5,"v":404},{"i":62.5,"v":421},{"i":64.5,"v":412},{"i":66.5,"v":426},{"i":68.5,"v":406},{"i":70.5,"v":417},{"i":72.5,"v":423},{"i":74.5,"v":403},{"i":76.5,"v":414},{"i":78.5,"v":425},{"i":80.5,"v":400},{"i":82.5,"v":412},{"i":84.5,"v":405},{"i":86.5,"v":418},{"i":88.5,"v":399},{"i":90.5,"v":409},{"i":92.5,"v":402},{"i":94.5,"v":396},{"i":96.5,"v":400},{"i":98.5,"v":390},{"i":100.5,"v":394},{"i":102.5,"v":383},{"i":104.5,"v":389},{"i":106.5,"v":380},{"i":108.5,"v":385},{"i":110.5,"v":375},{"i":112.5,"v":381},{"i":114.5,"v":371},{"i":116.5,"v":378},{"i":118.5,"v":366},{"i":120.5,"v":380},{"i":122.5,"v":369},{"i":124.5,"v":385},{"i":126.5,"v":362},{"i":128.5,"v":376},{"i":130.5,"v":389},{"i":132.5,"v":367},{"i":134.5,"v":382},{"i":136.5,"v":358},{"i":138.5,"v":374},{"i":140.5,"v":386},{"i":142.5,"v":365},{"i":144.5,"v":379},{"i":146.5,"v":370},{"i":148.5,"v":387},{"i":150.5,"v":361},{"i":152.5,"v":377},{"i":154.5,"v":368},{"i":156.5,"v":384},{"i":158.5,"v":357},{"i":160.5,"v":373},{"i":162.5,"v":388},{"i":164.5,"v":364},{"i":166.5,"v":380},{"i":168.5,"v":369},{"i":170.5,"v":385},{"i":172.5,"v":359},{"i":174.5,"v":376},{"i":176.5,"v":366},{"i":178.5,"v":382},{"i":180.5,"v":371},{"i":182.5,"v":390},{"i":184.5,"v":362},{"i":186.5,"v":379},{"i":188.5,"v":368},{"i":190.5,"v":386},{"i":192.5,"v":357},{"i":194.5,"v":374},{"i":196.5,"v":383},{"i":198.5,"v":365},{"i":200.5,"v":378},{"i":202.5,"v":370},{"i":204.5,"v":389},{"i":206.5,"v":360},{"i":208.5,"v":376},{"i":210.5,"v":367},{"i":212.5,"v":384},{"i":214.5,"v":372},{"i":216.5,"v":358},{"i":218.5,"v":381},{"i":220.5,"v":369},{"i":222.5,"v":387},{"i":224.5,"v":363},{"i":226.5,"v":377},{"i":228.5,"v":366},{"i":230.5,"v":385},{"i":232.5,"v":374},{"i":234.5,"v":359},{"i":236.5,"v":380},{"i":238.5,"v":371},{"i":240.5,"v":388},{"i":242.5,"v":364},{"i":244.5,"v":376},{"i":246.5,"v":368},{"i":248.5,"v":382}],
"b":[{"i":1,"v":120},{"i":2,"v":245},{"i":3,"v":88},{"i":4,"v":160},{"i":5,"v":298},{"i":6,"v":102},{"i":7,"v":75},{"i":8,"v":190},{"i":9,"v":40},{"i":10,"v":660},{"i":11,"v":135},{"i":12,"v":268},{"i":13,"v":28},{"i":14,"v":95},{"i":15,"v":45},{"i":16,"v":210},{"i":17,"v":118},{"i":18,"v":82},{"i":19,"v":315},{"i":20,"v":147},{"i":21,"v":66},{"i":22,"v":230},{"i":23,"v":108},{"i":24,"v":172},{"i":25,"v":90},{"i":26,"v":281},{"i":27,"v":127},{"i":28,"v":616},{"i":29,"v":78},{"i":30,"v":198},{"i":31,"v":140},{"i":32,"v":62},{"i":33,"v":255},{"i":34,"v":113},{"i":35,"v":185},{"i":36,"v":97},{"i":37,"v":325},{"i":38,"v":152},{"i":39,"v":71},{"i":40,"v":220},{"i":41,"v":550},{"i":42,"v":125},{"i":43,"v":86},{"i":44,"v":290},{"i":45,"v":165},{"i":46,"v":104},{"i":47,"v":544},{"i":48,"v":77},{"i":49,"v":240},{"i":50,"v":132},{"i":51,"v":93},{"i":52,"v":205},{"i":53,"v":555},{"i":54,"v":118},{"i":55,"v":69},{"i":56,"v":270},{"i":57,"v":145},{"i":58,"v":84},{"i":59,"v":180},{"i":60,"v":110},{"i":61,"v":310},{"i":62,"v":99},{"i":63,"v":155},{"i":64,"v":73},{"i":65,"v":232},{"i":66,"v":128},{"i":67,"v":489},{"i":68,"v":91},{"i":69,"v":175},{"i":70,"v":116},{"i":71,"v":262},{"i":72,"v":80},{"i":73,"v":142},{"i":74,"v":300},{"i":75,"v":105},{"i":76,"v":85},{"i":77,"v":195},{"i":78,"v":134},{"i":79,"v":74},{"i":80,"v":248},{"i":81,"v":451},{"i":82,"v":122},{"i":83,"v":96},{"i":84,"v":168},{"i":85,"v":1253},{"i":86,"v":87},{"i":87,"v":215},{"i":88,"v":110},{"i":89,"v":138},{"i":90,"v":79},{"i":91,"v":285},{"i":92,"v":126},{"i":93,"v":100},{"i":94,"v":183},{"i":95,"v":92},{"i":96,"v":320},{"i":97,"v":148},{"i":98,"v":83},{"i":99,"v":207},{"i":100,"v":119},{"i":101,"v":131},{"i":102,"v":76},{"i":103,"v":258},{"i":104,"v":107},{"i":105,"v":162},{"i":106,"v":94},{"i":107,"v":225},{"i":108,"v":141},{"i":109,"v":81},{"i":110,"v":190},{"i":111,"v":115},{"i":112,"v":275},{"i":113,"v":98},{"i":114,"v":150},{"i":115,"v":72},{"i":116,"v":238},{"i":117,"v":130},{"i":118,"v":178},{"i":119,"v":89},{"i":120,"v":305},{"i":121,"v":158},{"i":122,"v":35},{"i":123,"v":124},{"i":124,"v":42},{"i":125,"v":495},{"i":126,"v":170},{"i":127,"v":112},{"i":128,"v":265},{"i":129,"v":187},{"i":130,"v":456},{"i":131,"v":145},{"i":132,"v":200},{"i":133,"v":118},{"i":134,"v":292},{"i":135,"v":160},{"i":136,"v":131},{"i":137,"v":228},{"i":138,"v":176},{"i":139,"v":103},{"i":140,"v":250},{"i":141,"v":139},{"i":142,"v":188},{"i":143,"v":115},{"i":144,"v":312},{"i":145,"v":166},{"i":146,"v":125},{"i":147,"v":212},{"i":148,"v":150},{"i":149,"v":95},{"i":150,"v":278},{"i":151,"v":180},{"i":152,"v":120},{"i":153,"v":236},{"i":154,"v":158},{"i":155,"v":106},{"i":156,"v":196},{"i":157,"v":134},{"i":158,"v":86},{"i":159,"v":260},{"i":160,"v":147},{"i":161,"v":101},{"i":162,"v":218},{"i":163,"v":128},{"i":164,"v":80},{"i":165,"v":173},{"i":166,"v":295},{"i":167,"v":113},{"i":168,"v":90},{"i":169,"v":242},{"i":170,"v":154},{"i":171,"v":122},{"i":172,"v":77},{"i":173,"v":203},{"i":174,"v":30},{"i":175,"v":143},{"i":176,"v":98},{"i":177,"v":270},{"i":178,"v":467},{"i":179,"v":135},{"i":180,"v":88},{"i":181,"v":226},{"i":182,"v":162},{"i":183,"v":109},{"i":184,"v":318},{"i":185,"v":148},{"i":186,"v":84},{"i":187,"v":194},{"i":188,"v":126},{"i":189,"v":97},{"i":190,"v":48},{"i":191,"v":257},{"i":192,"v":140},{"i":193,"v":115},{"i":194,"v":182},{"i":195,"v":93},{"i":196,"v":288},{"i":197,"v":156},{"i":198,"v":121},{"i":199,"v":233},{"i":200,"v":170},{"i":201,"v":138},{"i":202,"v":205},{"i":203,"v":117},{"i":204,"v":302},{"i":205,"v":185},{"i":206,"v":150},{"i":207,"v":127},{"i":208,"v":246},{"i":209,"v":192},{"i":210,"v":110},{"i":211,"v":280},{"i":212,"v":163},{"i":213,"v":136},{"i":214,"v":214},{"i":215,"v":890},{"i":216,"v":178},{"i":217,"v":125},{"i":218,"v":264},{"i":219,"v":199},{"i":220,"v":145},{"i":221,"v":310},{"i":222,"v":168},{"i":223,"v":120},{"i":224,"v":238},{"i":225,"v":186},{"i":226,"v":132},{"i":227,"v":423},{"i":228,"v":175},{"i":229,"v":112},{"i":230,"v":255},{"i":231,"v":196},{"i":232,"v":148},{"i":233,"v":292},{"i":234,"v":160},{"i":235,"v":124},{"i":236,"v":222},{"i":237,"v":181},{"i":238,"v":139},{"i":239,"v":316},{"i":240,"v":170},{"i":241,"v":118},{"i":242,"v":248},{"i":243,"v":190},{"i":244,"v":152},{"i":245,"v":274},{"i":246,"v":165},{"i":247,"v":128},{"i":248,"v":208},{"i":249,"v":183},{"i":250,"v":142},
{"i":1.5,"v":102},{"i":3.5,"v":135},{"i":5.5,"v":80},{"i":7.5,"v":148},{"i":9.5,"v":95},{"i":11.5,"v":122},{"i":13.5,"v":70},{"i":15.5,"v":158},{"i":17.5,"v":108},{"i":19.5,"v":86},{"i":21.5,"v":140},{"i":23.5,"v":76},{"i":25.5,"v":117},{"i":27.5,"v":152},{"i":29.5,"v":93},{"i":31.5,"v":128},{"i":33.5,"v":82},{"i":35.5,"v":144},{"i":37.5,"v":104},{"i":39.5,"v":74},{"i":41.5,"v":132},{"i":43.5,"v":97},{"i":45.5,"v":155},{"i":47.5,"v":88},{"i":49.5,"v":119},{"i":51.5,"v":71},{"i":53.5,"v":137},{"i":55.5,"v":101},{"i":57.5,"v":84},{"i":59.5,"v":146},{"i":61.5,"v":112},{"i":63.5,"v":78},{"i":65.5,"v":125},{"i":67.5,"v":94},{"i":69.5,"v":141},{"i":71.5,"v":83},{"i":73.5,"v":116},{"i":75.5,"v":99},{"i":77.5,"v":136},{"i":79.5,"v":87},{"i":81.5,"v":108},{"i":83.5,"v":149},{"i":85.5,"v":79},{"i":87.5,"v":121},{"i":89.5,"v":92},{"i":91.5,"v":138},{"i":93.5,"v":85},{"i":95.5,"v":114},{"i":97.5,"v":101},{"i":99.5,"v":145},{"i":101.5,"v":90},{"i":103.5,"v":127},{"i":105.5,"v":81},{"i":107.5,"v":112},{"i":109.5,"v":140},{"i":111.5,"v":96},{"i":113.5,"v":123},{"i":115.5,"v":86},{"i":117.5,"v":133},{"i":119.5,"v":104},{"i":121.5,"v":150},{"i":123.5,"v":128},{"i":125.5,"v":172},{"i":127.5,"v":115},{"i":129.5,"v":160},{"i":131.5,"v":138},{"i":133.5,"v":182},{"i":135.5,"v":122},{"i":137.5,"v":155},{"i":139.5,"v":110},{"i":141.5,"v":168},{"i":143.5,"v":131},{"i":145.5,"v":147},{"i":147.5,"v":119},{"i":149.5,"v":176},{"i":151.5,"v":135},{"i":153.5,"v":100},{"i":155.5,"v":142},{"i":157.5,"v":117},{"i":159.5,"v":158},{"i":161.5,"v":92},{"i":163.5,"v":130},{"i":165.5,"v":108},{"i":167.5,"v":150},{"i":169.5,"v":124},{"i":171.5,"v":96},{"i":173.5,"v":140},{"i":175.5,"v":112},{"i":177.5,"v":163},{"i":179.5,"v":105},{"i":181.5,"v":145},{"i":183.5,"v":128},{"i":185.5,"v":90},{"i":187.5,"v":156},{"i":189.5,"v":118},{"i":191.5,"v":137},{"i":193.5,"v":101},{"i":195.5,"v":166},{"i":197.5,"v":126},{"i":199.5,"v":148},{"i":201.5,"v":171},{"i":203.5,"v":132},{"i":205.5,"v":158},{"i":207.5,"v":115},{"i":209.5,"v":177},{"i":211.5,"v":140},{"i":213.5,"v":121},{"i":215.5,"v":162},{"i":217.5,"v":145},{"i":219.5,"v":186},{"i":221.5,"v":127},{"i":223.5,"v":153},{"i":225.5,"v":170},{"i":227.5,"v":138},{"i":229.5,"v":192},{"i":231.5,"v":118},{"i":233.5,"v":159},{"i":235.5,"v":178},{"i":237.5,"v":135},{"i":239.5,"v":166},{"i":241.5,"v":147},{"i":243.5,"v":189},{"i":245.5,"v":129},{"i":247.5,"v":161},{"i":249.5,"v":152},
{"i":0.5,"v":145},{"i":2.5,"v":92},{"i":4.5,"v":178},{"i":6.5,"v":118},{"i":8.5,"v":67},{"i":10.5,"v":160},{"i":12.5,"v":105},{"i":14.5,"v":208},{"i":16.5,"v":84},{"i":18.5,"v":130},{"i":20.5,"v":99},{"i":22.5,"v":185},{"i":24.5,"v":73},{"i":26.5,"v":121},{"i":28.5,"v":150},{"i":30.5,"v":88},{"i":32.5,"v":171},{"i":34.5,"v":110},{"i":36.5,"v":64},{"i":38.5,"v":138},{"i":40.5,"v":96},{"i":42.5,"v":195},{"i":44.5,"v":79},{"i":46.5,"v":126},{"i":48.5,"v":162},{"i":50.5,"v":103},{"i":52.5,"v":85},{"i":54.5,"v":147},{"i":56.5,"v":115},{"i":58.5,"v":176},{"i":60.5,"v":70},{"i":62.5,"v":133},{"i":64.5,"v":98},{"i":66.5,"v":157},{"i":68.5,"v":82},{"i":70.5,"v":120},{"i":72.5,"v":188},{"i":74.5,"v":94},{"i":76.5,"v":142},{"i":78.5,"v":108},{"i":80.5,"v":77},{"i":82.5,"v":166},{"i":84.5,"v":125},{"i":86.5,"v":89},{"i":88.5,"v":152},{"i":90.5,"v":112},{"i":92.5,"v":72},{"i":94.5,"v":139},{"i":96.5,"v":101},{"i":98.5,"v":170},{"i":100.5,"v":86},{"i":102.5,"v":129},{"i":104.5,"v":95},{"i":106.5,"v":155},{"i":108.5,"v":117},{"i":110.5,"v":81},{"i":112.5,"v":143},{"i":114.5,"v":106},{"i":116.5,"v":164},{"i":118.5,"v":124},{"i":120.5,"v":135},{"i":122.5,"v":175},{"i":124.5,"v":112},{"i":126.5,"v":198},{"i":128.5,"v":146},{"i":130.5,"v":123},{"i":132.5,"v":168},{"i":134.5,"v":104},{"i":136.5,"v":187},{"i":138.5,"v":140},{"i":140.5,"v":118},{"i":142.5,"v":160},{"i":144.5,"v":132},{"i":146.5,"v":205},{"i":148.5,"v":109},{"i":150.5,"v":152},{"i":152.5,"v":127},{"i":154.5,"v":174},{"i":156.5,"v":96},{"i":158.5,"v":141},{"i":160.5,"v":115},{"i":162.5,"v":162},{"i":164.5,"v":133},{"i":166.5,"v":88},{"i":168.5,"v":149},{"i":170.5,"v":120},{"i":172.5,"v":180},{"i":174.5,"v":103},{"i":176.5,"v":136},{"i":178.5,"v":157},{"i":180.5,"v":125},{"i":182.5,"v":99},{"i":184.5,"v":169},{"i":186.5,"v":137},{"i":188.5,"v":111},{"i":190.5,"v":184},{"i":192.5,"v":130},{"i":194.5,"v":155},{"i":196.5,"v":116},{"i":198.5,"v":200},{"i":200.5,"v":142},{"i":202.5,"v":163},{"i":204.5,"v":128},{"i":206.5,"v":190},{"i":208.5,"v":151},{"i":210.5,"v":134},{"i":212.5,"v":175},{"i":214.5,"v":120},{"i":216.5,"v":206},{"i":218.5,"v":154},{"i":220.5,"v":139},{"i":222.5,"v":182},{"i":224.5,"v":126},{"i":226.5,"v":197},{"i":228.5,"v":160},{"i":230.5,"v":143},{"i":232.5,"v":210},{"i":234.5,"v":131},{"i":236.5,"v":173},{"i":238.5,"v":150},{"i":240.5,"v":194},{"i":242.5,"v":136},{"i":244.5,"v":165},{"i":246.5,"v":185},{"i":248.5,"v":146}]
},
"encoding":{
"x":{"field":"i","type":"quantitative","scale":{"domain":[0,251],"nice":false,"zero":false},"axis":null},
"y":{"field":"v","type":"quantitative","scale":{"domain":[0,1460],"nice":false,"zero":false},
"axis":{"values":[0,365,730,1095,1460],"labelExpr":"datum.value==0?'Diagnosis\u00a0\u00a0':datum.value==365?'1 year':datum.value==730?'2 year':datum.value==1095?'3 year':''","title":"Time since dx (days)","titleFont":"Liberation Sans","titleFontWeight":"bold","titleFontSize":10,"titleColor":"#ffffff","titleX":-40,"titleY":126,"titleBaseline":"bottom","labelColor":"#d9d9d9","labelFont":"Liberation Sans","labelFontSize":10,"ticks":false,"domain":false,"labelPadding":10,"gridColor":"#a6a6a6","gridWidth":1.5}}
},
"layer":[
{"data":{"name":"h"},"mark":{"type":"point","filled":true,"size":34,"opacity":1},"encoding":{"color":{"datum":"3 Year"},"shape":{"datum":"3 Year"}}},
{"data":{"name":"t"},"mark":{"type":"point","filled":true,"size":24,"opacity":1},"encoding":{"color":{"datum":"2 Year"},"shape":{"datum":"2 Year"}}},
{"data":{"name":"o"},"mark":{"type":"point","filled":true,"size":17,"opacity":1},"encoding":{"color":{"datum":"1 Year"},"shape":{"datum":"1 Year"}}},
{"data":{"name":"b"},"mark":{"type":"point","filled":true,"size":12,"opacity":1},"encoding":{"color":{"datum":"Baseline","type":"nominal","scale":{"domain":["Baseline","1 Year","2 Year","3 Year"],"range":["#ffffff","#b98cf0","#ffff00","#c2f2c6"]},"legend":{"orient":"none","legendX":90,"legendY":282,"direction":"horizontal","title":null,"labelColor":"#d9d9d9","labelFont":"Liberation Sans","labelFontSize":10,"symbolSize":12,"labelOffset":3,"columnPadding":16,"symbolStrokeWidth":0}},"shape":{"datum":"Baseline","type":"nominal","scale":{"domain":["Baseline","1 Year","2 Year","3 Year"],"range":["circle","circle","triangle-up","M-1,-0.5L-0.5,-1L0,-0.5L0.5,-1L1,-0.5L0.5,0L1,0.5L0.5,1L0,0.5L-0.5,1L-1,0.5L-0.5,0Z"]}}}}
]
}
